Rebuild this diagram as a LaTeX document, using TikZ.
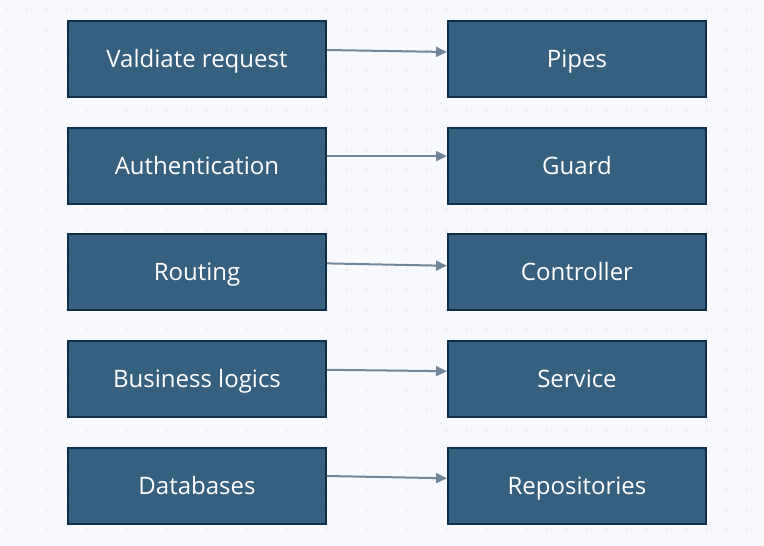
\documentclass[tikz,border=0pt]{standalone}
\usepackage{fontspec}
\setmainfont{Open Sans}
\usetikzlibrary{arrows.meta}
\definecolor{bg}{HTML}{F8F9FC}
\definecolor{dotc}{HTML}{D3DCE8}
\definecolor{boxfill}{HTML}{356080}
\definecolor{boxline}{HTML}{0F2E4C}
\definecolor{arr}{HTML}{72869A}
\begin{document}
\begin{tikzpicture}[x=1pt,y=-1pt,
  box/.style={draw=boxline, line width=2pt, fill=boxfill, minimum width=258pt, minimum height=76pt,
    inner sep=0pt, text=white, font=\fontsize{24}{28}\selectfont, text height=17.1pt, text depth=0pt},
  conn/.style={draw=arr, line width=2pt, -{Triangle[length=11pt,width=10pt]}}]
\fill[bg] (0,0) rectangle (764,546);
\useasboundingbox (0,0) rectangle (764,546);
\foreach \x in {6.7,26.7,...,766} \foreach \y in {10,30,...,546} \fill[dotc] (\x,\y) circle (0.8pt);
\node[box] (l1) at (197,59) {Valdiate request};
\node[box] (l2) at (197,165.6) {Authentication};
\node[box] (l3) at (197,272.2) {Routing};
\node[box] (l4) at (197,378.8) {Business logics};
\node[box] (l5) at (197,485.5) {Databases};
\node[box] (r1) at (577,59) {Pipes};
\node[box] (r2) at (577,165.6) {Guard};
\node[box] (r3) at (577,272.2) {Controller};
\node[box] (r4) at (577,378.8) {Service};
\node[box] (r5) at (577,485.5) {Repositories};
\draw[conn] ([yshift=9pt]l1.east) -- ([yshift=7pt]r1.west);
\draw[conn] ([yshift=9.5pt]l2.east) -- ([yshift=9.5pt]r2.west);
\draw[conn] ([yshift=8.8pt]l3.east) -- ([yshift=6.4pt]r3.west);
\draw[conn] ([yshift=9pt]l4.east) -- ([yshift=7.6pt]r4.west);
\draw[conn] ([yshift=9.5pt]l5.east) -- ([yshift=7.2pt]r5.west);
\end{tikzpicture}
\end{document}
